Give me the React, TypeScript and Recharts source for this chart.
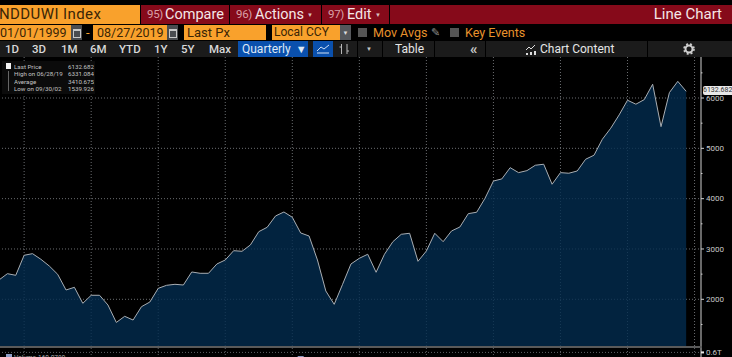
import React from "react";
import { Area, AreaChart, Bar, BarChart, CartesianGrid, XAxis, YAxis } from "recharts";

// quarterly closes, 1999 Q1 to 2019 Q3
const closes = [
  2384, 2509, 2477, 2875, 2907, 2795, 2662, 2497, 2185, 2238, 1920, 2080, 2080, 1887, 1540, 1662, 1588,
  1853, 1946, 2218, 2278, 2298, 2284, 2543, 2517, 2517, 2702, 2781, 2966, 2954, 3080, 3344, 3431, 3656,
  3735, 3630, 3318, 3258, 2781, 2165, 1900, 2298, 2702, 2815, 2895, 2537, 2895, 3145, 3292, 3312, 2755,
  2960, 3312, 3145, 3358, 3437, 3702, 3730, 4008, 4350, 4392, 4616, 4517, 4557, 4664, 4684, 4286, 4517,
  4505, 4550, 4783, 4863, 5181, 5400, 5664, 5956, 5877, 5968, 6274, 5431, 6108, 6331, 6132.682,
];
const priceTicks = [1500, 2000, 2500, 3000, 3500, 4000, 4500, 5000, 5500, 6000, 6500];
const priceGrid = [2000, 3000, 4000, 5000, 6000];
const timeGrid = [3, 11, 19, 27, 35, 43, 51, 59, 67, 75, 83];
const legendRows = [
  ["Last Price", "6132.682"],
  ["High on 06/28/19", "6331.084"],
  ["Average", "3410.675"],
  ["Low on 09/30/02", "1539.926"],
];
const rangeButtons = [
  ["1D", 5], ["3D", 32], ["1M", 61], ["6M", 90], ["YTD", 119], ["1Y", 154], ["5Y", 181], ["Max", 209],
] as const;
// only the one volume bar that pokes up into the visible strip
const volumes = [{ idx: 36, value: 0.46 }];

const priceData = closes.map((close, idx) => ({ idx, close }));
const FONT = "Roboto, sans-serif";
const ORANGE = "#f9a12c";
const RED = "#860a1a";

function Box({ x, y, w, h, bg, children, style }: any) {
  return (
    <div
      style={{
        position: "absolute", left: x, top: y, width: w, height: h, background: bg, whiteSpace: "nowrap",
        overflow: "hidden", lineHeight: `${h}px`, ...style,
      }}
    >
      {children}
    </div>
  );
}

function MenuButton({ x, w, num, label, labelX, arrow }: any) {
  return (
    <Box x={x} y={5} w={w} h={19} bg={RED} style={{ fontSize: 14.5, color: "#f4e6e6" }}>
      <span style={{ position: "absolute", left: 6, color: "#d9a0a6", fontSize: 11.5, letterSpacing: -0.3 }}>{num}</span>
      <span style={{ position: "absolute", left: labelX }}>{label}</span>
      {arrow && <span style={{ position: "absolute", right: 8, fontSize: 6, color: "#d8c0c0" }}>▼</span>}
    </Box>
  );
}

function Field({ x, w, label, pad = 0, size = 12.5 }: any) {
  return (
    <Box x={x} y={25} w={w} h={15} bg={ORANGE} style={{ fontSize: size, color: "#3a2506", paddingLeft: pad, boxSizing: "border-box" }}>
      {label}
    </Box>
  );
}

function CalIcon({ x }: any) {
  return (
    <Box x={x} y={25} w={11} h={15} bg="#4a4c50">
      <div style={{ position: "absolute", left: 2, top: 4, width: 6, height: 6, border: "1px solid #c8c8c8", borderTopWidth: 2 }} />
    </Box>
  );
}

function PriceTick({ x, y, payload }: any) {
  const major = payload.value % 1000 === 0;
  return (
    <g>
      <line x1={x} x2={x + (major ? 3 : 1.5)} y1={y} y2={y} stroke="#d0d0d0" />
      {major && (
        <text x={x + 5} y={y + 2.8} fontSize={8} fontFamily={FONT} fill="#c8c8c8">
          {payload.value}
        </text>
      )}
    </g>
  );
}

function VolumeTick({ x, y }: any) {
  return (
    <g>
      <path d={`M${x} ${y - 1}h3v2h-3z`} fill="#e8e8e8" />
      <text x={x + 5} y={y + 3} fontSize={8} fontFamily={FONT} fill="#c8c8c8">
        0.6T
      </text>
    </g>
  );
}

export default function App() {
  return (
    <div style={{ position: "fixed", left: 0, top: 0, width: 732, height: 357, background: "#000", overflow: "hidden", fontFamily: FONT }}>
      {/* top menu strip */}
      <Box x={0} y={5} w={140} h={19} bg={ORANGE} style={{ fontSize: 15, color: "#3a2506", letterSpacing: 0.4 }}>
        <span style={{ marginLeft: -1 }}>NDDUWI Index</span>
      </Box>
      <MenuButton x={141} w={88} num="95)" label="Compare" labelX={24} />
      <MenuButton x={230} w={91} num="96)" label="Actions" labelX={25} arrow />
      <MenuButton x={322} w={67} num="97)" label="Edit" labelX={25} arrow />
      <Box x={390} y={5} w={342} h={19} bg={RED} style={{ fontSize: 15, color: "#f4e6e6" }}>
        <span style={{ position: "absolute", right: 10 }}>Line Chart</span>
      </Box>

      {/* date and pricing row */}
      <Field x={0} w={71} label="01/01/1999" />
      <CalIcon x={71} />
      <Box x={86} y={25} w={6} h={15} style={{ color: ORANGE, fontSize: 13 }}>-</Box>
      <Field x={93} w={74} label="08/27/2019" pad={4} />
      <CalIcon x={167} />
      <Field x={184} w={82} label="Last Px" pad={3} size={13} />
      <Field x={272} w={68} label="Local CCY" pad={2} size={12} />
      <Box x={340} y={25} w={11} h={15} bg="#55575b" style={{ color: "#ddd", fontSize: 6, textAlign: "center" }}>▼</Box>
      <Box x={358} y={28} w={9} h={9} bg="#555" />
      <Box x={373} y={25} w={58} h={15} style={{ color: "#e8922c", fontSize: 12.5 }}>Mov Avgs</Box>
      <Box x={431} y={26} w={10} h={13} style={{ color: "#8a8a8a", fontSize: 11 }}>✎</Box>
      <Box x={450} y={28} w={9} h={9} bg="#555" />
      <Box x={465} y={25} w={70} h={15} style={{ color: "#e8922c", fontSize: 12.5 }}>Key Events</Box>

      {/* range buttons */}
      <Box x={0} y={41} w={732} h={16} bg="#1b1b1b" />
      {rangeButtons.map(([label, x]) => (
        <Box key={label} x={x} y={41} w={28} h={16} style={{ color: "#d8d8d8", fontSize: 11.5, fontWeight: 500 }}>
          {label}
        </Box>
      ))}
      <Box x={238} y={41} w={70} h={16} bg="#0a50ad" style={{ color: "#dfe9f6", fontSize: 12, paddingLeft: 4, boxSizing: "border-box" }}>
        Quarterly <span style={{ fontSize: 11, marginLeft: 2 }}>▼</span>
      </Box>
      <Box x={313} y={41} w={20} h={16} bg="#0a50ad">
        <svg width={20} height={16} style={{ position: "absolute", left: 0, top: 0 }}>
          <path d="M4 12h12M4 10l4-4 3 2 5-4" stroke="#cfe0f5" fill="none" />
        </svg>
      </Box>
      <Box x={337} y={41} w={16} h={16}>
        <svg width={16} height={16} style={{ position: "absolute", left: 0, top: 0 }}>
          <path d="M4.5 3v10M2.5 6h2M10 3v10M10 10h2" stroke="#b8b8b8" fill="none" />
        </svg>
      </Box>
      <Box x={357} y={41} w={1} h={16} bg="#000" />
      <Box x={382} y={41} w={1} h={16} bg="#000" />
      <Box x={434} y={41} w={1} h={16} bg="#000" />
      <Box x={485} y={41} w={1} h={16} bg="#000" />
      <Box x={647} y={41} w={1} h={16} bg="#000" />
      <Box x={362} y={41} w={14} h={16} style={{ color: "#c8c8c8", fontSize: 6, textAlign: "center" }}>▼</Box>
      <Box x={395} y={41} w={36} h={16} style={{ color: "#e6e6e6", fontSize: 12 }}>Table</Box>
      <Box x={470} y={41} w={14} h={16} style={{ color: "#c8c8c8", fontSize: 15, fontWeight: 700 }}>«</Box>
      <Box x={525} y={41} w={12} h={16}>
        <svg width={12} height={16} style={{ position: "absolute", left: 0, top: 0 }}>
          <path d="M1 9l3-3 2 2 4-4" stroke="#ddd" fill="none" />
          <path d="M1 12h2v2H1zM5 11h2v3H5zM9 10h2v4H9z" fill="#ddd" />
        </svg>
      </Box>
      <Box x={540} y={41} w={76} h={16} style={{ color: "#e6e6e6", fontSize: 12 }}>Chart Content</Box>
      <Box x={682} y={41} w={14} h={16}>
        <svg width={14} height={16} style={{ position: "absolute", left: 0, top: 0 }}>
          <circle cx={7} cy={8} r={3.5} fill="none" stroke="#cfcfcf" strokeWidth={2} />
          <circle cx={7} cy={8} r={5} fill="none" stroke="#cfcfcf" strokeWidth={1.6} strokeDasharray="2 2" />
        </svg>
      </Box>

      {/* price panel */}
      <div style={{ position: "absolute", left: -1, top: 57 }}>
        <AreaChart width={733} height={290} data={priceData} margin={{ top: 0, right: 0, bottom: 1, left: 0 }}>
          <CartesianGrid stroke="#6a6d70" strokeDasharray="1 2" horizontalValues={priceGrid} verticalValues={timeGrid} />
          <XAxis dataKey="idx" type="number" domain={[0, 83.77]} hide />
          <YAxis
            orientation="right"
            width={31}
            domain={[1072, 6815]}
            ticks={priceTicks}
            interval={0}
            tickLine={false}
            tickSize={0}
            tickMargin={0}
            axisLine={{ stroke: "#8c8c8c", strokeWidth: 1.5 }}
            tick={<PriceTick />}
          />
          <Area
            dataKey="close"
            type="linear"
            stroke="#a9aeb3"
            strokeWidth={1}
            fill="#032c4f"
            fillOpacity={0.8}
            dot={false}
            isAnimationActive={false}
          />
        </AreaChart>
      </div>

      {/* legend */}
      <Box x={2} y={61} w={93} h={33} bg="#0b0b0b" />
      <Box x={6} y={63} w={5} h={6} bg="#f2f2f2" />
      {legendRows.map(([label, value], i) => (
        <React.Fragment key={label}>
          <Box x={14} y={62.5 + i * 7.6} w={52} h={8} style={{ color: "#c4c4c4", fontSize: 6.2 }}>{label}</Box>
          <Box x={64} y={62.5 + i * 7.6} w={30} h={8} style={{ color: "#c4c4c4", fontSize: 6.2, textAlign: "right" }}>{value}</Box>
        </React.Fragment>
      ))}
      <Box x={8} y={71} w={1} h={20} bg="#666" />

      {/* last price flag */}
      <Box x={703} y={86} w={29} h={9} bg="#e8e8e8" style={{ color: "#333", fontSize: 7, textAlign: "center", borderRadius: "2px 0 0 2px" }}>
        6132.682
      </Box>

      {/* panel divider and volume strip */}
      <Box x={0} y={346} w={702} h={2} bg="#5a5a5a" />
      <div style={{ position: "absolute", left: -1, top: 348 }}>
        <BarChart width={733} height={20} data={volumes} margin={{ top: 0, right: 0, bottom: 0, left: 0 }}>
          <CartesianGrid stroke="#5c5f63" strokeDasharray="1 2" horizontalValues={[0.6]} verticalValues={timeGrid} />
          <XAxis dataKey="idx" type="number" domain={[0, 83.77]} hide />
          <YAxis
            orientation="right"
            width={31}
            domain={[0, 0.77]}
            ticks={[0.6]}
            interval={0}
            tickLine={false}
            tickSize={0}
            tickMargin={0}
            axisLine={{ stroke: "#8c8c8c", strokeWidth: 1.5 }}
            tick={<VolumeTick />}
          />
          <Bar dataKey="value" fill="#8f9fc8" barSize={6} isAnimationActive={false} />
        </BarChart>
      </div>
      <Box x={6} y={354} w={6} h={5} bg="#8f9fc8" />
      <Box x={14} y={354} w={24} h={8} style={{ color: "#a8a8a8", fontSize: 6.5 }}>Volume</Box>
      <Box x={38} y={354} w={30} h={8} style={{ color: "#a8a8a8", fontSize: 6.5 }}>160.0789</Box>
    </div>
  );
}
